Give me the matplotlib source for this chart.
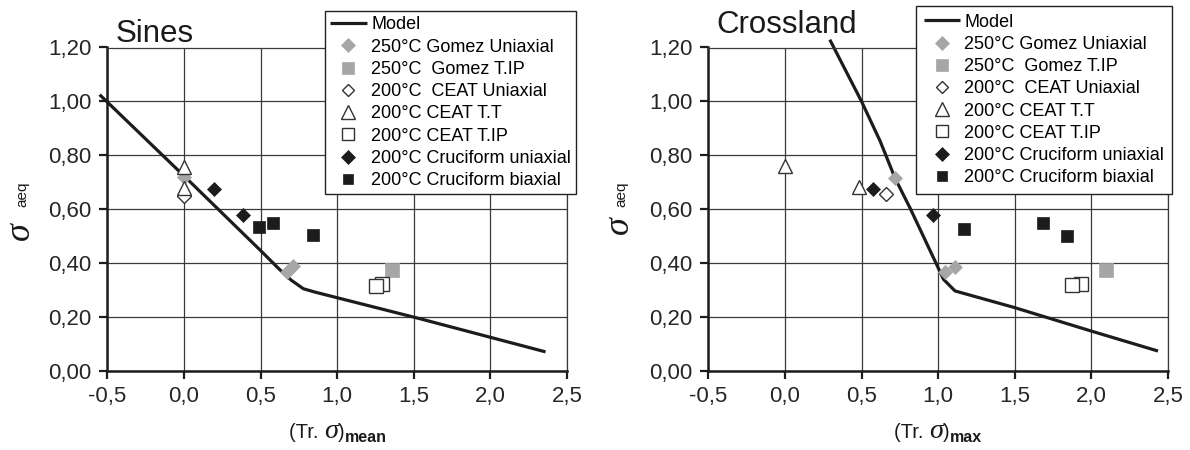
import matplotlib
matplotlib.use('Agg')
import matplotlib.pyplot as plt

plt.rcParams['font.family'] = ['Liberation Sans', 'DejaVu Sans']

# ---------------- data ----------------
x_ticks = [-0.5, 0.0, 0.5, 1.0, 1.5, 2.0, 2.5]
x_tick_labels = ['-0,5', '0,0', '0,5', '1,0', '1,5', '2,0', '2,5']
y_ticks = [0.0, 0.2, 0.4, 0.6, 0.8, 1.0, 1.2]
y_tick_labels = ['0,00', '0,20', '0,40', '0,60', '0,80', '1,00', '1,20']

series_labels = ['250°C Gomez Uniaxial', '250°C  Gomez T.IP', '200°C  CEAT Uniaxial',
                 '200°C CEAT T.T', '200°C CEAT T.IP', '200°C Cruciform uniaxial',
                 '200°C Cruciform biaxial']
model_label = 'Model'

# Sines panel
sines_model_x = [-0.55, 0.0, 0.5, 0.62, 0.70, 0.78, 0.86, 1.54, 2.36]
sines_model_y = [1.025, 0.724, 0.447, 0.379, 0.337, 0.305, 0.292, 0.194, 0.071]
sines_gomez_uni_x = [0.0, 0.675, 0.715]
sines_gomez_uni_y = [0.718, 0.368, 0.390]
sines_gomez_tip_x = [1.355]
sines_gomez_tip_y = [0.373]
sines_ceat_uni_x = [0.0]
sines_ceat_uni_y = [0.649]
sines_ceat_tt_x = [0.0, 0.0]
sines_ceat_tt_y = [0.755, 0.677]
sines_ceat_tip_x = [1.29, 1.255]
sines_ceat_tip_y = [0.323, 0.317]
sines_cruc_uni_x = [0.195, 0.388]
sines_cruc_uni_y = [0.674, 0.577]
sines_cruc_bi_x = [0.493, 0.584, 0.84]
sines_cruc_bi_y = [0.533, 0.549, 0.505]

# Crossland panel
cross_model_x = [0.293, 0.5, 0.622, 0.719, 0.817, 0.991, 1.035, 1.11, 1.5, 2.0, 2.435]
cross_model_y = [1.229, 1.0, 0.852, 0.715, 0.604, 0.394, 0.340, 0.297, 0.235, 0.148, 0.074]
cross_gomez_uni_x = [0.719, 1.045, 1.11]
cross_gomez_uni_y = [0.715, 0.368, 0.387]
cross_gomez_tip_x = [2.095]
cross_gomez_tip_y = [0.374]
cross_ceat_uni_x = [0.661]
cross_ceat_uni_y = [0.655]
cross_ceat_tt_x = [0.0, 0.486]
cross_ceat_tt_y = [0.759, 0.681]
cross_ceat_tip_x = [1.935, 1.875]
cross_ceat_tip_y = [0.324, 0.318]
cross_cruc_uni_x = [0.572, 0.965]
cross_cruc_uni_y = [0.674, 0.580]
cross_cruc_bi_x = [1.17, 1.683, 1.84]
cross_cruc_bi_y = [0.527, 0.548, 0.499]

# ---------------- styles ----------------
GREY = '#a6a6a6'
BLACK = '#1c1c1c'
EDGE = '#333333'
styles = [
    dict(marker='D', markersize=7.6, markerfacecolor=GREY, markeredgecolor=GREY, markeredgewidth=0.5),
    dict(marker='s', markersize=10, markerfacecolor=GREY, markeredgecolor=GREY, markeredgewidth=0.5),
    dict(marker='D', markersize=7.2, markerfacecolor='white', markeredgecolor=EDGE, markeredgewidth=1.0),
    dict(marker='^', markersize=10.5, markerfacecolor='white', markeredgecolor=EDGE, markeredgewidth=1.0),
    dict(marker='s', markersize=9.5, markerfacecolor='white', markeredgecolor=EDGE, markeredgewidth=1.0),
    dict(marker='D', markersize=7.6, markerfacecolor=BLACK, markeredgecolor=BLACK, markeredgewidth=0.5),
    dict(marker='s', markersize=8.6, markerfacecolor=BLACK, markeredgecolor=BLACK, markeredgewidth=0.5),
]

W, H = 1190, 450
fig = plt.figure(figsize=(W / 100, H / 100), dpi=100)
fig.patch.set_facecolor('white')

ax1 = fig.add_axes([107.3 / W, 1 - 371 / H, (567 - 107.3) / W, (371 - 47.5) / H])
ax2 = fig.add_axes([708.3 / W, 1 - 371 / H, (1168 - 708.3) / W, (371 - 47.5) / H])


def draw_panel(ax, mx, my, series, legend_anchor, borderpad):
    ax.set_axisbelow(True)
    ax.plot(mx, my, color=BLACK, lw=2.3, solid_capstyle='butt', clip_on=False,
            zorder=2, label=model_label)
    for (sx, sy), st, lab in zip(series, styles, series_labels):
        ax.plot(sx, sy, linestyle='none', zorder=3, label=lab, **st)
    ax.set_xlim(-0.5, 2.5)
    ax.set_ylim(0.0, 1.2)
    ax.set_xticks(x_ticks)
    ax.set_xticklabels(x_tick_labels)
    ax.set_yticks(y_ticks)
    ax.set_yticklabels(y_tick_labels)
    ax.grid(True, color='#3a3a3a', lw=0.9)
    for s in ['top', 'right']:
        ax.spines[s].set_color('#3a3a3a')
        ax.spines[s].set_linewidth(0.9)
    for s in ['left', 'bottom']:
        ax.spines[s].set_color(BLACK)
        ax.spines[s].set_linewidth(1.8)
    ax.tick_params(direction='out', length=5.5, width=1.6, color=BLACK,
                   labelsize=16, labelcolor='#262626')
    ax.tick_params(axis='y', pad=6)
    ax.tick_params(axis='x', pad=5)
    leg = ax.legend(loc='upper left', bbox_to_anchor=legend_anchor,
                    bbox_transform=fig.transFigure, borderaxespad=0,
                    fontsize=13, handlelength=2.0, handletextpad=0.25,
                    labelspacing=0.29, borderpad=borderpad, markerscale=0.9,
                    fancybox=False, framealpha=1, edgecolor='#222222')
    leg.get_frame().set_linewidth(1.0)
    leg.set_zorder(10)


draw_panel(ax1, sines_model_x, sines_model_y,
           [(sines_gomez_uni_x, sines_gomez_uni_y), (sines_gomez_tip_x, sines_gomez_tip_y),
            (sines_ceat_uni_x, sines_ceat_uni_y), (sines_ceat_tt_x, sines_ceat_tt_y),
            (sines_ceat_tip_x, sines_ceat_tip_y), (sines_cruc_uni_x, sines_cruc_uni_y),
            (sines_cruc_bi_x, sines_cruc_bi_y)],
           (325 / W, 1 - 11 / H), 0.3)
draw_panel(ax2, cross_model_x, cross_model_y,
           [(cross_gomez_uni_x, cross_gomez_uni_y), (cross_gomez_tip_x, cross_gomez_tip_y),
            (cross_ceat_uni_x, cross_ceat_uni_y), (cross_ceat_tt_x, cross_ceat_tt_y),
            (cross_ceat_tip_x, cross_ceat_tip_y), (cross_cruc_uni_x, cross_cruc_uni_y),
            (cross_cruc_bi_x, cross_cruc_bi_y)],
           (916 / W, 1 - 6 / H), 0.42)

# titles
fig.text(116 / W, 1 - 41.7 / H, 'Sines', fontsize=22.5, color='#1a1a1a',
         ha='left', va='baseline')
fig.text(716 / W, 1 - 33.3 / H, 'Crossland', fontsize=22.5, color='#1a1a1a',
         ha='left', va='baseline')

fig.canvas.draw()
renderer = fig.canvas.get_renderer()


def chain_x(pieces, center_px):
    items = []
    for s, kw, base in pieces:
        t = fig.text(0, 0, s, ha='left', va='baseline', color='#1a1a1a', **kw)
        w = t.get_window_extent(renderer).width
        items.append((t, w, base))
    total = sum(w for _, w, _ in items)
    x = center_px - total / 2
    for t, w, base in items:
        t.set_position((x / W, 1 - base / H))
        x += w


sans = dict(fontsize=14.5)
sig = dict(fontsize=20.5, family='Liberation Serif', style='italic')
sub = dict(fontsize=11.5, weight='bold')
chain_x([('(Tr. ', sans, 438.5), ('σ', sig, 438.5), (')', sans, 438.5),
         ('mean', sub, 442)], 337.5)
chain_x([('(Tr. ', sans, 438.5), ('σ', sig, 438.5), (')', sans, 438.5),
         ('max', sub, 442)], 938)

# y labels (rotated)
for xb, ys, ya in [(29.0, 240.0, 207.0), (627.5, 234.0, 207.0)]:
    fig.text(xb / W, 1 - ys / H, 'σ', fontsize=26, family='Liberation Serif',
             style='italic', rotation=90, rotation_mode='anchor',
             ha='left', va='baseline', color='#1a1a1a')
    fig.text((xb - 2.5) / W, 1 - ya / H, 'aeq', fontsize=11, rotation=90,
             rotation_mode='anchor', ha='left', va='baseline', color='#1a1a1a')

fig.savefig('out.png', dpi=100, facecolor='white')
